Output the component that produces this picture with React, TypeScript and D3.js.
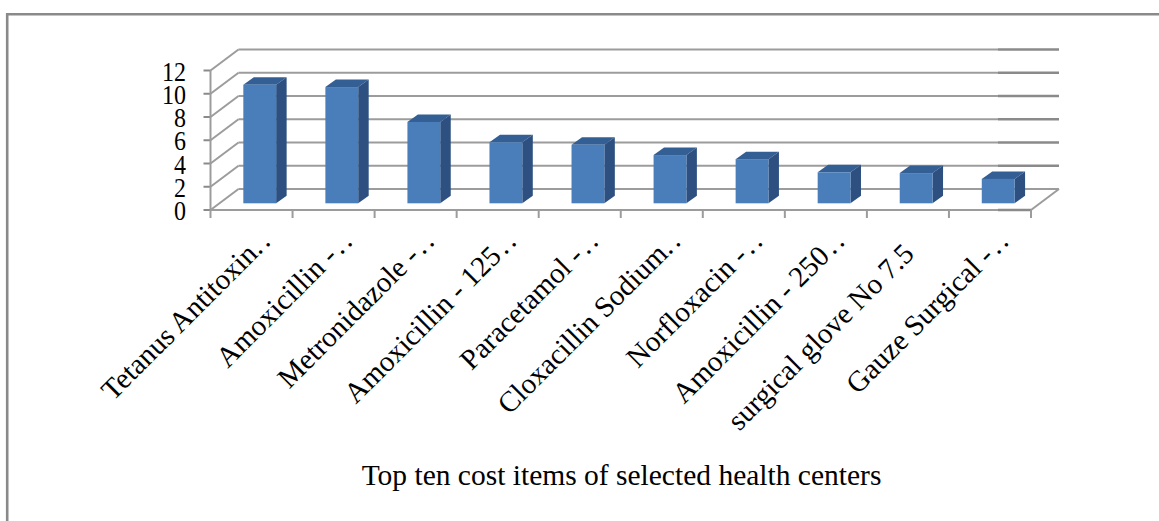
import React from "react";
import * as d3 from "d3";

const categories = [
  "Tetanus Antitoxin. .",
  "Amoxicillin - . .",
  "Metronidazole - . .",
  "Amoxicillin - 125 . .",
  "Paracetamol - . .",
  "Cloxacillin Sodium. .",
  "Norfloxacin - . .",
  "Amoxicillin - 250 . .",
  "surgical glove No 7.5",
  "Gauze Surgical - . .",
];
const costValues = [10.2, 10.0, 7.0, 5.25, 5.03, 4.15, 3.8, 2.67, 2.6, 2.1];
const yTicks = [0, 2, 4, 6, 8, 10, 12];
const chartTitle = "Top ten cost items of selected health centers";

const WIDTH = 1159;
const HEIGHT = 521;
const SERIF = "'Liberation Serif', 'Times New Roman', serif";
const GRID = "#9c9c9c";
const DARK_GRID = "#8a8a8a";

// Front plane of the 3D box and the offset that takes it to the back wall.
const x = d3.scaleBand<number>().domain(d3.range(categories.length)).range([210.5, 1031]);
const y = d3.scaleLinear().domain([0, 12]).range([210, 70.5]);
const WALL_DX = 28;
const WALL_DY = -21;

// Columns stand partway into the floor, with a fixed share of the depth.
const BAR_WIDTH_SHARE = 0.4;
const BAR_OFFSET_SHARE = 0.4;
const BAR_BASE_RISE = 6.7;
const BAR_DX = 10.5;
const BAR_DY = -7.5;

// The right-hand end of each gridline is drawn a little heavier.
const HEAVY_START = 998;

const poly = d3.line<[number, number]>();

// Splits a shortened label into its name and the closely spaced dots after it.
function splitTail(label: string): [string, string] {
  const m = label.match(/^(.*?)( ?\. \.)$/);
  return m ? [m[1], m[2]] : [label, ""];
}

export default function App() {
  const barW = x.step() * BAR_WIDTH_SHARE;
  const barOffset = x.step() * BAR_OFFSET_SHARE;
  const x0 = x.range()[0];
  const x1 = x.range()[1];
  return (
    <svg
      width={WIDTH}
      height={HEIGHT}
      style={{ position: "absolute", left: 0, top: 0, background: "#fff" }}
    >
      <path d={`M7.2,${HEIGHT}V14.2H${WIDTH}`} fill="none" stroke="#8a8a8a" strokeWidth={2.6} />

      {/* back wall gridlines and side wall diagonals */}
      {yTicks.map((t) => (
        <g key={t} stroke={GRID} strokeWidth={2} fill="none">
          {t > 0 && (
            <line x1={HEAVY_START} x2={x1 + WALL_DX} y1={y(t) + WALL_DY} y2={y(t) + WALL_DY} stroke={DARK_GRID} strokeWidth={2.4} />
          )}
          <line x1={x0 + WALL_DX} x2={t > 0 ? HEAVY_START : x1 + WALL_DX} y1={y(t) + WALL_DY} y2={y(t) + WALL_DY} />
          <line x1={x0} x2={x0 + WALL_DX} y1={y(t)} y2={y(t) + WALL_DY} />
          <line x1={x0 - 7} x2={x0} y1={y(t)} y2={y(t)} stroke={DARK_GRID} />
        </g>
      ))}

      {/* floor outline, left axis and category ticks */}
      <g stroke={GRID} strokeWidth={2} fill="none">
        <line x1={x0} x2={x0} y1={y(12)} y2={y(0)} />
        <line x1={x0} x2={x1} y1={y(0)} y2={y(0)} />
        <line x1={HEAVY_START} x2={x1} y1={y(0)} y2={y(0)} stroke={DARK_GRID} strokeWidth={2.6} />
        <line x1={x1} x2={x1 + WALL_DX} y1={y(0)} y2={y(0) + WALL_DY} />
        {d3.range(categories.length + 1).map((i) => {
          const px = x0 + i * x.step();
          return <line key={i} x1={px} x2={px} y1={y(0)} y2={y(0) + 8} />;
        })}
      </g>

      {/* 3D columns: top, side and front faces */}
      {costValues.map((v, i) => {
        const left = (x(i) as number) + barOffset;
        const right = left + barW;
        const base = y(0) - BAR_BASE_RISE;
        const top = base - (y(0) - y(v));
        return (
          <g key={i}>
            <path
              d={poly([
                [left, top],
                [left + BAR_DX, top + BAR_DY],
                [right + BAR_DX, top + BAR_DY],
                [right, top],
              ]) + "Z"}
              fill="#335f94"
            />
            <path
              d={poly([
                [right, top],
                [right + BAR_DX, top + BAR_DY],
                [right + BAR_DX, base + BAR_DY],
                [right, base],
              ]) + "Z"}
              fill="#2d5080"
            />
            <rect x={left} y={top} width={barW} height={base - top} fill="#4a7ebb" />
          </g>
        );
      })}

      {/* value axis labels, set slightly tall */}
      {yTicks.map((t) => (
        <text
          key={t}
          transform={`translate(186,${y(t) + 10}) scale(1,1.13)`}
          textAnchor="end"
          fontFamily={SERIF}
          fontSize={24}
          fill="#000"
        >
          {t}
        </text>
      ))}

      {/* rotated category labels; full names stop short of where the dots would end */}
      {categories.map((c, i) => {
        const [name, tail] = splitTail(c);
        const shift = tail ? 0 : 12.5;
        const px = (x(i) as number) + x.bandwidth() / 2 + 20 - shift;
        return (
          <text
            key={c}
            transform={`translate(${px},${243 + shift}) rotate(-45)`}
            textAnchor="end"
            fontFamily={SERIF}
            fontSize={29}
            fill="#000"
          >
            <tspan>{name}</tspan>
            {tail && <tspan style={{ wordSpacing: "-4px" }}>{tail}</tspan>}
          </text>
        );
      })}

      <text
        x={621.5}
        y={485}
        textAnchor="middle"
        fontFamily={SERIF}
        fontSize={29.5}
        fill="#000"
      >
        {chartTitle}
      </text>
    </svg>
  );
}
